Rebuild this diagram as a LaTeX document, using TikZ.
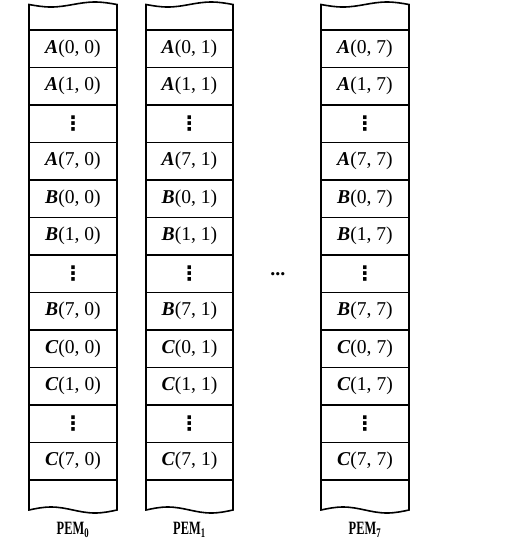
\documentclass[tikz,border=0pt]{standalone}
\usepackage{fontspec}
\setmainfont{Liberation Serif}
\newfontfamily\dvfont{DejaVu Sans}
\newcommand\entry[3]{\textbf{\textit{#1}}(#2, #3)}
\newcommand\vdt{{\dvfont\bfseries\fontsize{10}{11}\selectfont ⋮}}
\begin{document}
\begin{tikzpicture}[x=0.5pt,y=-0.5pt,
  cell/.style={draw, line width=0.8pt, outer sep=0pt, inner sep=0pt,
    minimum height=18.75pt, font=\fontsize{9.8}{12}\selectfont},
  edge/.style={line width=0.8pt},
  lab/.style={font=\bfseries\fontsize{9.4}{10}\selectfont, xscale=0.66, transform shape}]
\useasboundingbox (0,0) rectangle (521,543);
\foreach \c/\x/\w in {0/73/88,1/189.5/87,7/365/88}{
  \foreach \r/\m/\i in {1/A/0,2/A/1,4/A/7,5/B/0,6/B/1,8/B/7,9/C/0,10/C/1,12/C/7}{
    \node[cell, minimum width=\w*0.5pt] (c\c-\r) at (\x,{11.25+37.5*\r}) {\entry{\m}{\i}{\c}};
  }
  \foreach \r in {3,7,11}{
    \node[cell, minimum width=\w*0.5pt] (c\c-\r) at (\x,{11.25+37.5*\r}) {\vdt};
  }
  \draw[edge] (c\c-1.north west) -- ++(0,-25.5) sin ++({\w/4},2.5) cos ++({\w/4},-2.5)
     sin ++({\w/4},-2.5) cos ++({\w/4},2.5) -- (c\c-1.north east);
  \draw[edge] (c\c-12.south west) -- ++(0,30) sin ++({\w/4},-3) cos ++({\w/4},3)
     sin ++({\w/4},3) cos ++({\w/4},-3) -- (c\c-12.south east);
  \node[lab] (pem\c) at (\x,530) {PEM\textsubscript{\c}};
}
\node[font=\bfseries] (gap) at (278,273.75) {...};
\end{tikzpicture}
\end{document}
